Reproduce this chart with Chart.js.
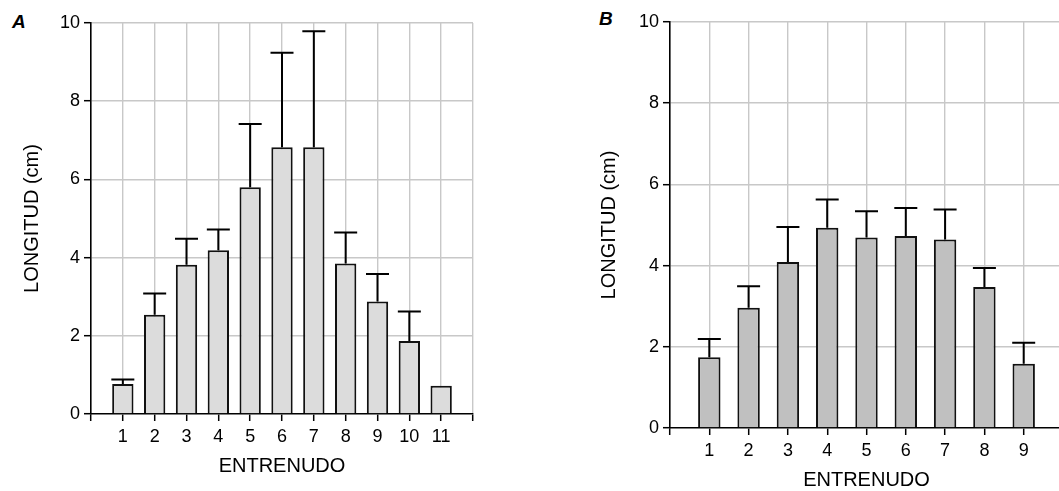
<!DOCTYPE html>
<html>
<head>
<meta charset="utf-8">
<script src="https://cdn.jsdelivr.net/npm/chart.js@4"></script>
<style>
  html, body { margin: 0; padding: 0; background: #fff; }
  body { width: 1059px; height: 491px; overflow: hidden; position: relative; font-family: "Liberation Sans", Arial, sans-serif; }
  canvas { position: absolute; top: 0; }
  #chartA { left: 0; }
  #chartB { left: 579px; }
  .panel-tag { position: absolute; font: italic bold 19px "Liberation Sans", Arial, sans-serif; color: #000; }
</style>
</head>
<body>
<div class="panel-tag" style="left:12px; top:11px;">A</div>
<div class="panel-tag" style="left:599px; top:8px;">B</div>
<canvas id="chartA" width="500" height="491" style="width:500px;height:491px"></canvas>
<canvas id="chartB" width="520" height="505" style="width:520px;height:505px"></canvas>
<script>
// panel A: internode number, mean length (cm) and error (cm)
const nodesA = [1, 2, 3, 4, 5, 6, 7, 8, 9, 10, 11];
const lengthA = [0.77, 2.54, 3.82, 4.19, 5.80, 6.82, 6.82, 3.85, 2.88, 1.87, 0.72];
const errorA = [0.11, 0.54, 0.66, 0.53, 1.62, 2.42, 2.97, 0.79, 0.70, 0.75, 0];

// panel B
const nodesB = [1, 2, 3, 4, 5, 6, 7, 8, 9];
const lengthB = [1.74, 2.96, 4.09, 4.93, 4.69, 4.73, 4.64, 3.47, 1.58];
const errorB = [0.45, 0.53, 0.86, 0.70, 0.65, 0.69, 0.74, 0.47, 0.52];

const yTicks = [0, 2, 4, 6, 8, 10];

const gridGrey = "#c8c8c8";
const fontFamily = "'Liberation Sans', Arial, sans-serif";

// draws the upper error bar (stem + cap) above every bar
const errorBars = {
    id: "errorBars",
    afterDatasetsDraw(chart, args, opts) {
        const ctx = chart.ctx;
        const xs = chart.scales.x;
        const ys = chart.scales.y;
        const ds = chart.data.datasets[0];
        ctx.save();
        ctx.strokeStyle = "#000";
        ctx.lineWidth = 2;
        ds.data.forEach(function (pt, i) {
            const err = opts.errors[i];
            if (!err) return;
            const x = xs.getPixelForValue(pt.x);
            const yBar = ys.getPixelForValue(pt.y);
            const yTop = ys.getPixelForValue(pt.y + err);
            ctx.beginPath();
            ctx.moveTo(x, yBar);
            ctx.lineTo(x, yTop);
            ctx.moveTo(x - opts.cap / 2, yTop);
            ctx.lineTo(x + opts.cap / 2, yTop);
            ctx.stroke();
        });
        ctx.restore();
    }
};

function makeChart(id, nodes, lengths, errors, opt) {
    const points = [];
    for (let i = 0; i < nodes.length; i++) {
        points.push({ x: nodes[i], y: lengths[i] });
    }

    return new Chart(document.getElementById(id), {
        type: "bar",
        data: {
            datasets: [{
                data: points,
                backgroundColor: opt.fill,
                borderColor: "#111",
                borderWidth: 2,
                categoryPercentage: 1,
                barPercentage: opt.barPct
            }]
        },
        options: {
            responsive: false,
            animation: false,
            events: [],
            layout: { padding: opt.padding },
            plugins: {
                legend: { display: false },
                tooltip: { enabled: false },
                errorBars: { errors: errors, cap: 23 }
            },
            scales: {
                x: {
                    type: "linear",
                    min: 0,
                    max: opt.xMax,
                    offset: false,
                    afterBuildTicks: function (scale) {
                        const t = [];
                        for (let v = 0; v <= opt.xMax; v++) t.push({ value: v });
                        scale.ticks = t;
                    },
                    afterFit: function (scale) { scale.height = 77; },
                    ticks: {
                        color: "#000",
                        padding: 5,
                        maxRotation: 0,
                        autoSkip: false,
                        font: { family: fontFamily, size: 18 },
                        callback: function (v) { return nodes.indexOf(v) >= 0 ? String(v) : ""; }
                    },
                    grid: {
                        offset: false,
                        color: function (c) { return c.tick && c.tick.value === 0 ? "rgba(0,0,0,0)" : gridGrey; },
                        lineWidth: 1.4,
                        tickColor: "#000",
                        tickLength: 7,
                        tickWidth: 1.5
                    },
                    border: { color: "#000", width: 1.6 },
                    title: {
                        display: true,
                        text: "ENTRENUDO",
                        color: "#000",
                        font: { family: fontFamily, size: 20 },
                        padding: { top: 0, bottom: 13 }
                    }
                },
                y: {
                    min: 0,
                    max: 10,
                    afterBuildTicks: function (scale) {
                        scale.ticks = yTicks.map(function (v) { return { value: v }; });
                    },
                    afterFit: function (scale) { scale.width = 91; },
                    ticks: {
                        color: "#000",
                        padding: 4,
                        font: { family: fontFamily, size: 18 }
                    },
                    grid: {
                        color: function (c) { return c.tick && c.tick.value === 0 ? "rgba(0,0,0,0)" : gridGrey; },
                        lineWidth: 1.4,
                        tickColor: "#000",
                        tickLength: 7,
                        tickWidth: 1.5
                    },
                    border: { color: "#000", width: 1.6 },
                    title: {
                        display: true,
                        text: "LONGITUD (cm)",
                        color: "#000",
                        font: { family: fontFamily, size: 20 },
                        padding: { top: opt.yTitlePad, bottom: 0 }
                    }
                }
            }
        },
        plugins: [errorBars]
    });
}

makeChart("chartA", nodesA, lengthA, errorA, {
    fill: "#dcdcdc",
    barPct: 0.67,
    xMax: 12,
    yTitlePad: 20,
    padding: { top: 23, right: 27, bottom: 0, left: 0 }
});

makeChart("chartB", nodesB, lengthB, errorB, {
    fill: "#c0c0c0",
    barPct: 0.57,
    xMax: 10,
    yTitlePad: 18,
    padding: { top: 22, right: 36, bottom: 0, left: 0 }
});
</script>
</body>
</html>
